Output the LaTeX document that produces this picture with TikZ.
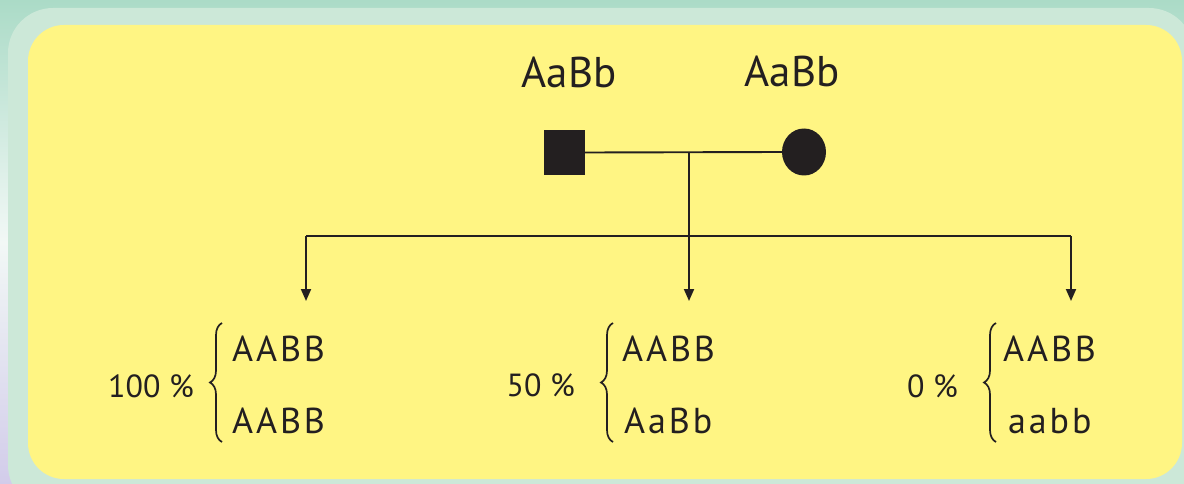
\documentclass[tikz,border=0pt]{standalone}
\usepackage{fontspec}
\setmainfont{PT Sans}
\newfontfamily\spacedfont[LetterSpace=8]{PT Sans}
\usetikzlibrary{arrows.meta,shapes.geometric,decorations.pathreplacing}
\definecolor{ink}{HTML}{231F20}
\definecolor{bgyellow}{HTML}{FFF583}
\definecolor{band}{HTML}{CCE8D8}
\definecolor{bgtop}{HTML}{ABDBC7}
\definecolor{bgmid}{HTML}{F2F8F6}
\definecolor{bgbot}{HTML}{D2CCEA}
\tikzset{
  conn/.style={draw=ink, line width=1.9pt},
  arr/.style={conn, -{Triangle[width=10pt,length=12pt]}},
  parentlbl/.style={text=ink, inner sep=0pt, anchor=base, font=\fontsize{43}{43}\selectfont},
  geno/.style={text=ink, inner sep=0pt, anchor=base west, font=\fontsize{36}{36}\spacedfont},
  pct/.style={text=ink, inner sep=0pt, anchor=base east, font=\fontsize{32}{32}\selectfont},
  brc/.style={draw=ink, line width=1.7pt, decorate, decoration={brace, amplitude=12pt, aspect=0.5}},
}
\begin{document}
\begin{tikzpicture}[x=1pt, y=-1pt]
\useasboundingbox (0,0) rectangle (1184,484);
\clip (0,0) rectangle (1184,484);
% background
\shade[top color=bgtop, bottom color=bgbot, middle color=bgmid] (0,0) rectangle (1184,484);
\fill[band, rounded corners=45pt] (8,8) rectangle (1194,510);
\fill[bgyellow, rounded corners=36pt] (28,25) rectangle (1182,479);

% parents
\node[parentlbl] (lm) at (569,88) {AaBb};
\node[parentlbl] (lf) at (792,87) {AaBb};
\node[draw=none, fill=ink, rectangle, minimum width=41pt, minimum height=45pt, inner sep=0pt] (male) at (564.5,152.5) {};
\node[draw=none, fill=ink, ellipse, minimum width=44pt, minimum height=47pt, inner sep=0pt] (female) at (804,152) {};
\coordinate (mate) at (689,152);
\coordinate (split) at (689,236);
\coordinate (sl) at (306,236);
\coordinate (sr) at (1071,236);
\coordinate (t1) at (306,301);
\coordinate (t2) at (689,301);
\coordinate (t3) at (1071,301);

\draw[conn] (male.east) -- (female.west);
\draw[conn] (mate) -- (split);
\draw[conn] (sl) -- (sr);
\draw[arr] (sl) -- (t1);
\draw[arr] (split) -- (t2);
\draw[arr] (sr) -- (t3);

% children groups
\node[pct] (p1) at (194,397) {100 \%};
\draw[brc] (222,442) -- (222,323);
\node[geno] (g1a) at (232,361) {AABB};
\node[geno] (g1b) at (232,433) {AABB};

\node[pct] (p2) at (575,396) {50 \%};
\draw[brc] (613,442) -- (613,323);
\node[geno] (g2a) at (622,361) {AABB};
\node[geno] (g2b) at (624,433) {AaBb};

\node[pct] (p3) at (958,397) {0 \%};
\draw[brc] (996,442) -- (996,323);
\node[geno] (g3a) at (1003,361) {AABB};
\node[geno] (g3b) at (1008,433) {aabb};
\end{tikzpicture}
\end{document}
